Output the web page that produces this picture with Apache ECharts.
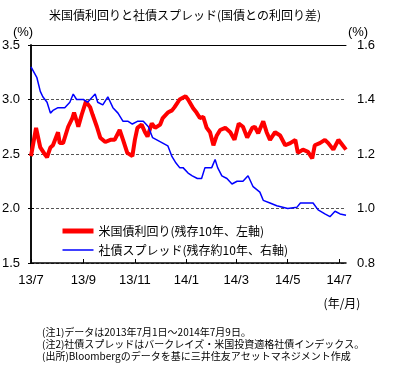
<!DOCTYPE html>
<html><head><meta charset="utf-8">
<script src="https://cdn.jsdelivr.net/npm/echarts@6/dist/echarts.min.js"></script>
<style>html,body{margin:0;padding:0;background:#fff}#c{width:400px;height:376px}</style>
</head><body><div id="c"></div>
<script>
const titleText = '米国債利回りと社債スプレッド(国債との利回り差)';
const legendNames = ['米国債利回り(残存10年、左軸)', '社債スプレッド(残存約10年、右軸)'];
const notes = [
  '(注1)データは2013年7月1日～2014年7月9日。',
  '(注2)社債スプレッドはバークレイズ・米国投資適格社債インデックス。',
  '(出所)Bloombergのデータを基に三井住友アセットマネジメント作成'
];
const unitLabel = '(%)';
const xUnitLabel = '(年/月)';

const yieldDates = ['2013-07-01','2013-07-07','2013-07-12','2013-07-18','2013-07-20','2013-07-24','2013-07-27',
  '2013-08-02','2013-08-04','2013-08-08','2013-08-14','2013-08-19','2013-08-21','2013-08-25','2013-08-26','2013-08-30',
  '2013-09-04','2013-09-09','2013-09-12','2013-09-17','2013-09-21','2013-09-27','2013-10-03','2013-10-08','2013-10-14',
  '2013-10-18','2013-10-23','2013-10-29','2013-11-01','2013-11-04','2013-11-09','2013-11-13','2013-11-16','2013-11-21',
  '2013-11-25','2013-12-01','2013-12-04','2013-12-10','2013-12-15','2013-12-18','2013-12-24','2013-12-31','2014-01-03',
  '2014-01-09','2014-01-13','2014-01-17','2014-01-21','2014-01-25','2014-01-29','2014-02-02','2014-02-06','2014-02-10',
  '2014-02-16','2014-02-22','2014-02-27','2014-03-04','2014-03-09','2014-03-14','2014-03-20','2014-03-23','2014-03-27',
  '2014-04-02','2014-04-06','2014-04-10','2014-04-16','2014-04-22','2014-04-28','2014-05-04','2014-05-10','2014-05-13',
  '2014-05-19','2014-05-25','2014-05-30','2014-06-02','2014-06-08','2014-06-14','2014-06-18','2014-06-24','2014-06-30',
  '2014-07-05','2014-07-09'];
const yieldValues = [2.48,2.74,2.56,2.49,2.47,2.56,2.58,
  2.70,2.60,2.60,2.75,2.83,2.88,2.78,2.75,2.86,
  2.98,2.93,2.86,2.75,2.65,2.61,2.63,2.63,2.72,
  2.63,2.51,2.48,2.63,2.74,2.77,2.70,2.66,2.78,
  2.74,2.77,2.83,2.88,2.90,2.93,3.00,3.03,3.00,
  2.92,2.88,2.83,2.84,2.74,2.70,2.58,2.67,2.72,
  2.74,2.70,2.63,2.78,2.75,2.65,2.74,2.75,2.69,
  2.80,2.70,2.63,2.70,2.67,2.58,2.60,2.63,2.51,
  2.54,2.52,2.46,2.58,2.60,2.63,2.60,2.54,2.63,
  2.58,2.54];

const spreadDates = ['2013-07-01','2013-07-08','2013-07-12','2013-07-15','2013-07-20','2013-07-24','2013-07-27',
  '2013-08-02','2013-08-10','2013-08-16','2013-08-20','2013-08-24','2013-09-01','2013-09-06','2013-09-15','2013-09-18',
  '2013-09-24','2013-09-30','2013-10-06','2013-10-12','2013-10-18','2013-10-24','2013-10-29','2013-11-04','2013-11-11',
  '2013-11-17','2013-11-22','2013-11-28','2013-12-04','2013-12-10','2013-12-15','2013-12-19','2013-12-24','2013-12-28',
  '2014-01-03','2014-01-08','2014-01-14','2014-01-19','2014-01-23','2014-01-31','2014-02-04','2014-02-07','2014-02-12',
  '2014-02-18','2014-02-24','2014-03-02','2014-03-09','2014-03-15','2014-03-21','2014-03-29','2014-04-02','2014-04-10',
  '2014-04-18','2014-05-01','2014-05-12','2014-05-16','2014-05-31','2014-06-06','2014-06-14','2014-06-20','2014-06-26',
  '2014-07-02','2014-07-09'];
const spreadValues = [1.52,1.48,1.43,1.41,1.39,1.35,1.36,
  1.37,1.37,1.39,1.42,1.40,1.40,1.39,1.42,1.39,
  1.38,1.41,1.37,1.35,1.32,1.32,1.31,1.32,1.32,
  1.30,1.26,1.25,1.24,1.23,1.19,1.17,1.15,1.15,
  1.13,1.12,1.11,1.11,1.15,1.15,1.18,1.15,1.12,
  1.11,1.09,1.10,1.10,1.12,1.08,1.06,1.03,1.02,
  1.01,1.00,1.005,1.02,1.02,0.995,0.98,0.97,0.99,
  0.98,0.975];

const tickDates = ['2013-07-01','2013-09-01','2013-11-01','2014-01-01','2014-03-01','2014-05-01','2014-07-01'];
const tickLabels = ['13/7','13/9','13/11','14/1','14/3','14/5','14/7'];
const xMinDate = '2013-07-01', xMaxDate = '2014-07-09';

// day number counted from the first date
function dayNum(s){ const p = s.split('-').map(Number); return Math.round((Date.UTC(p[0], p[1]-1, p[2]) - Date.UTC(2013, 6, 1)) / 86400000); }
const tickDays = tickDates.map(dayNum);

const JP = '"Noto Sans CJK JP", sans-serif';
const NUM = '"Liberation Sans", Arial, sans-serif';

const chart = echarts.init(document.getElementById('c'), null, {renderer:'canvas'});
chart.setOption({
  animation: false,
  backgroundColor: '#fff',
  grid: {left: 31, right: 54, top: 45, bottom: 113, containLabel: false, outerBoundsMode: 'none'},
  legend: {
    left: 55, top: 220, orient: 'vertical', itemWidth: 31, itemHeight: 14, itemGap: 7,
    itemStyle: {opacity: 0},
    textStyle: {fontSize: 12, color: '#000', fontFamily: JP},
    data: [
      {name: legendNames[0], lineStyle: {width: 5}},
      {name: legendNames[1], lineStyle: {width: 1.5}}
    ]
  },
  xAxis: [{
    type: 'value', min: dayNum(xMinDate), max: dayNum(xMaxDate), position: 'bottom', z: 5,
    axisLine: {show: true, lineStyle: {color: '#000', width: 1.5}},
    axisTick: {show: true, inside: true, length: 4, customValues: tickDays, lineStyle: {color: '#000'}},
    axisLabel: {customValues: tickDays, margin: 11, fontSize: 13, color: '#000', fontFamily: NUM,
      formatter: function(v){ const i = tickDays.indexOf(v); return i >= 0 ? tickLabels[i] : ''; }},
    splitLine: {show: false}
  }, {
    type: 'value', min: dayNum(xMinDate), max: dayNum(xMaxDate), position: 'top', z: 5,
    axisLine: {show: true, lineStyle: {color: '#000', width: 1}},
    axisTick: {show: false}, axisLabel: {show: false}, splitLine: {show: false}
  }],
  yAxis: [{
    type: 'value', min: 1.5, max: 3.5, interval: 0.5, position: 'left',
    axisLine: {show: true, lineStyle: {color: '#000', width: 1.5}},
    axisTick: {show: true, inside: true, length: 3, lineStyle: {color: '#000'}},
    axisLabel: {margin: 11, fontSize: 13, color: '#000', fontFamily: NUM, formatter: v => v.toFixed(1)},
    splitLine: {show: true, lineStyle: {color: '#555', width: 1, type: [3, 2]}}
  }, {
    type: 'value', min: 0.8, max: 1.6, interval: 0.2, position: 'right',
    axisLine: {show: true, lineStyle: {color: '#000', width: 1.5}},
    axisTick: {show: true, inside: true, length: 3, lineStyle: {color: '#000'}},
    axisLabel: {margin: 11, fontSize: 13, color: '#000', fontFamily: NUM, formatter: v => v.toFixed(1)},
    splitLine: {show: false}
  }],
  series: [{
    name: legendNames[0], type: 'line', yAxisIndex: 0, symbol: 'none',
    lineStyle: {color: '#ff0000', width: 4}, itemStyle: {color: '#ff0000'},
    data: yieldDates.map((d, i) => [dayNum(d), yieldValues[i]])
  }, {
    name: legendNames[1], type: 'line', yAxisIndex: 1, symbol: 'none',
    lineStyle: {color: '#0000ff', width: 1.5}, itemStyle: {color: '#0000ff'},
    data: spreadDates.map((d, i) => [dayNum(d), spreadValues[i]])
  }],
  graphic: [
    {type: 'text', x: 185, y: 15, style: {text: titleText, fill: '#000', font: '12px ' + JP, textAlign: 'center', textVerticalAlign: 'middle'}},
    {type: 'text', x: 23, y: 32, style: {text: unitLabel, fill: '#000', font: '13px ' + NUM, textAlign: 'center', textVerticalAlign: 'middle'}},
    {type: 'text', x: 358, y: 32, style: {text: unitLabel, fill: '#000', font: '13px ' + NUM, textAlign: 'center', textVerticalAlign: 'middle'}},
    {type: 'text', x: 342, y: 303, style: {text: xUnitLabel, fill: '#000', font: '12px ' + JP, textAlign: 'center', textVerticalAlign: 'middle'}},
    {type: 'text', x: 42, y: 332, style: {text: notes[0], fill: '#000', font: '10px ' + JP, textAlign: 'left', textVerticalAlign: 'middle'}},
    {type: 'text', x: 42, y: 344, style: {text: notes[1], fill: '#000', font: '10px ' + JP, textAlign: 'left', textVerticalAlign: 'middle'}},
    {type: 'text', x: 42, y: 356, style: {text: notes[2], fill: '#000', font: '10px ' + JP, textAlign: 'left', textVerticalAlign: 'middle'}}
  ]
});
</script></body></html>
